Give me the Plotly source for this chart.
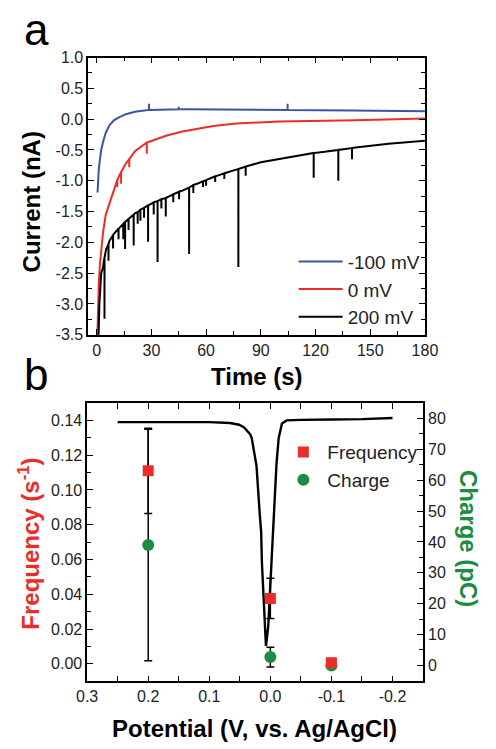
import plotly.graph_objects as go

# ---------------- Panel a data ----------------
blue_t = [0.5, 0.8, 1.2, 1.7, 2.5, 3.5, 5, 7, 9.5, 12.2, 16, 21, 25, 29.6, 40, 50, 75, 100, 140, 180]
blue_i = [-1.19, -0.98, -0.80, -0.68, -0.50, -0.37, -0.22, -0.10, -0.02, 0.03, 0.08, 0.12, 0.14, 0.15,
          0.16, 0.16, 0.16, 0.15, 0.14, 0.13]
blue_spike_t = [28.7, 45.0, 104.7]
blue_spike_base = [0.15, 0.16, 0.15]
blue_spike_tip = [0.25, 0.20, 0.25]

red_t = [0.3, 0.7, 1.2, 1.8, 2.6, 3.5, 5, 7, 9.5, 12.2, 16, 21, 25, 29.6, 38, 47, 64, 76.5, 100, 142, 180]
red_i = [-3.6, -3.0, -2.64, -2.35, -2.11, -1.84, -1.55, -1.37, -1.12, -0.93, -0.72, -0.52, -0.43, -0.36,
         -0.27, -0.20, -0.11, -0.07, -0.04, -0.02, 0.01]
red_spike_t = [11.3, 13.4, 17.9, 27.5]
red_spike_base = [-0.99, -0.86, -0.65, -0.38]
red_spike_tip = [-1.10, -1.05, -0.78, -0.56]

black_t = [0.8, 1.0, 1.5, 2.5, 3.5, 5.2, 7, 10.4, 15, 21, 29.6, 40, 47, 55, 64, 76.5, 90, 108, 125, 142, 160, 180]
black_i = [-3.8, -3.6, -3.0, -2.5, -2.40, -2.11, -1.98, -1.83, -1.68, -1.53, -1.38, -1.25, -1.16, -1.05,
           -0.94, -0.82, -0.70, -0.60, -0.53, -0.46, -0.40, -0.35]
black_spike_t = [4.3, 6.5, 9.0, 12.0, 14.6, 15.6, 17.5, 20.3, 22.5, 24.0, 26.0, 28.2, 31.3, 33.4, 35.5,
                 37.9, 42.0, 45.2, 50.7, 53.0, 58.3, 60.0, 65.0, 70.0, 77.7, 81.7, 119.0, 132.5, 140.0]
black_spike_base = [-2.25, -2.03, -1.88, -1.78, -1.70, -1.67, -1.62, -1.55, -1.51, -1.47, -1.44, -1.40,
                    -1.35, -1.33, -1.30, -1.28, -1.22, -1.18, -1.11, -1.07, -1.01, -0.99, -0.93, -0.88,
                    -0.81, -0.77, -0.55, -0.50, -0.47]
black_spike_tip = [-3.24, -2.30, -2.10, -1.95, -1.95, -2.11, -1.80, -2.05, -1.70, -1.65, -1.60, -1.99,
                   -1.55, -2.32, -1.45, -1.58, -1.35, -1.30, -2.19, -1.20, -1.10, -1.08, -1.02, -0.97,
                   -2.40, -0.92, -0.95, -1.00, -0.65]

time_ticks = [0, 30, 60, 90, 120, 150, 180]
current_ticks = [1.0, 0.5, 0.0, -0.5, -1.0, -1.5, -2.0, -2.5, -3.0, -3.5]
current_ticktext = ["1.0", "0.5", "0.0", "-0.5", "-1.0", "-1.5", "-2.0", "-2.5", "-3.0", "-3.5"]

# ---------------- Panel b data ----------------
potential = [0.2, 0.0, -0.1]
frequency = [0.111, 0.0376, 0.0006]
frequency_err = [0.0245, 0.0116, None]
charge = [39.0, 2.7, 0.0]
charge_err = [37.5, 3.2, None]

cv_x = [0.25, 0.15, 0.10, 0.066, 0.051, 0.043, 0.033, 0.0305, 0.0227, 0.0175, 0.015, 0.0139, 0.0097,
        0.0072, 0.0035, -0.0006, -0.006, -0.010, -0.0136, -0.019, -0.0266, -0.05, -0.1, -0.15, -0.2]
cv_y = [0.1390, 0.1392, 0.1390, 0.1385, 0.1375, 0.1360, 0.1320, 0.1298, 0.1140, 0.0867, 0.0755, 0.0586,
        0.0305, 0.0103, 0.0213, 0.0493, 0.0867, 0.1148, 0.1298, 0.1382, 0.1400, 0.1403, 0.1405, 0.1407, 0.1414]

pot_ticks = [0.3, 0.2, 0.1, 0.0, -0.1, -0.2]
pot_ticktext = ["0.3", "0.2", "0.1", "0.0", "-0.1", "-0.2"]
freq_ticks = [0.00, 0.02, 0.04, 0.06, 0.08, 0.10, 0.12, 0.14]
freq_ticktext = ["0.00", "0.02", "0.04", "0.06", "0.08", "0.10", "0.12", "0.14"]
charge_ticks = [0, 10, 20, 30, 40, 50, 60, 70, 80]

BLUE = "#3b55a5"
RED = "#ea2d2a"
GREEN = "#1b8c40"
FONT = "Arial, Liberation Sans, sans-serif"
W, H = 496, 749


def with_spikes(t, i, st, sb, sp):
    pts = [(a, b, 0) for a, b in zip(t, i)]
    for a, b, c in zip(st, sb, sp):
        pts += [(a - 0.02, b, 1), (a, c, 2), (a + 0.02, b, 3)]
    pts.sort()
    return [p[0] for p in pts], [p[1] for p in pts]


def px(xp):
    return xp / W


def py(yp):
    return 1 - yp / H


fig = go.Figure()

for name, t, i, st, sb, sp, col in [
    ("-100 mV", blue_t, blue_i, blue_spike_t, blue_spike_base, blue_spike_tip, BLUE),
    ("0 mV", red_t, red_i, red_spike_t, red_spike_base, red_spike_tip, RED),
    ("200 mV", black_t, black_i, black_spike_t, black_spike_base, black_spike_tip, "black"),
]:
    xs, ys = with_spikes(t, i, st, sb, sp)
    fig.add_trace(go.Scatter(x=xs, y=ys, mode="lines", name=name,
                             line=dict(color=col, width=2),
                             xaxis="x", yaxis="y", legend="legend"))

# panel b
fig.add_trace(go.Scatter(x=cv_x, y=cv_y, mode="lines", showlegend=False,
                         line=dict(color="black", width=2.4),
                         xaxis="x2", yaxis="y3"))
fig.add_trace(go.Scatter(x=potential, y=frequency, mode="markers", name="Frequency",
                         marker=dict(symbol="square", size=11, color=RED),
                         error_y=dict(type="data", array=frequency_err, color="black", thickness=1.5, width=4),
                         xaxis="x2", yaxis="y3", legend="legend2"))
fig.add_trace(go.Scatter(x=potential, y=charge, mode="markers", name="Charge",
                         marker=dict(symbol="circle", size=12, color=GREEN),
                         error_y=dict(type="data", array=charge_err, color="black", thickness=1.5, width=4),
                         xaxis="x2", yaxis="y2", legend="legend2"))

axis_common = dict(showline=True, linecolor="black", linewidth=1.5, ticks="inside", ticklen=6,
                   tickwidth=1.3, tickcolor="black", showgrid=False, zeroline=False,
                   tickfont=dict(family=FONT, size=16, color="#222"))

fig.update_layout(
    width=W, height=H, margin=dict(l=0, r=0, t=0, b=0),
    paper_bgcolor="white", plot_bgcolor="white",
    font=dict(family=FONT, color="black"),
    xaxis=dict(domain=[px(81), px(435)], anchor="y", range=[-4.7, 180], tickvals=time_ticks,
               mirror="allticks", minor=dict(ticks="inside", ticklen=4, dtick=15, tick0=0, tickcolor="black"),
               **axis_common),
    yaxis=dict(domain=[py(334.3), py(50.7)], anchor="x", range=[-3.5, 1.0], tickvals=current_ticks,
               ticktext=current_ticktext, mirror="allticks",
               minor=dict(ticks="inside", ticklen=4, dtick=0.25, tick0=0, tickcolor="black"),
               **axis_common),
    xaxis2=dict(domain=[px(80), px(433)], anchor="y2", range=[0.3, -0.25], tickvals=pot_ticks,
                ticktext=pot_ticktext, mirror="allticks",
                minor=dict(ticks="inside", ticklen=4, dtick=0.05, tick0=0, tickcolor="black"),
                **axis_common),
    yaxis2=dict(domain=[py(689), py(404)], anchor="x2", side="right", range=[-5.16, 85.06],
                tickvals=charge_ticks,
                minor=dict(ticks="inside", ticklen=4, dtick=5, tick0=0, tickcolor="black"),
                **axis_common),
    yaxis3=dict(overlaying="y2", anchor="x2", side="left", range=[-0.0101, 0.1501],
                tickvals=freq_ticks, ticktext=freq_ticktext,
                minor=dict(ticks="inside", ticklen=4, dtick=0.01, tick0=0, tickcolor="black"),
                **axis_common),
    legend=dict(x=px(297), y=py(240), xanchor="left", yanchor="top", bgcolor="rgba(0,0,0,0)",
                font=dict(family=FONT, size=19, color="#222"), itemwidth=44, tracegroupgap=0),
    legend2=dict(x=px(282), y=py(435), xanchor="left", yanchor="top", bgcolor="rgba(0,0,0,0)",
                 font=dict(family=FONT, size=19, color="#222"), itemwidth=38, tracegroupgap=0),
)

ann = [
    dict(text="a", x=px(12), y=py(22), xanchor="left", yanchor="middle", font=dict(size=44)),
    dict(text="b", x=px(12), y=py(375), xanchor="left", yanchor="middle", font=dict(size=44)),
    dict(text="<b>Current (nA)</b>", x=px(22), y=py(198), textangle=-90, font=dict(size=24)),
    dict(text="<b>Time (s)</b>", x=px(258), y=py(377), font=dict(size=24)),
    dict(text="<b>Frequency (s<sup>-1</sup>)</b>", x=px(18), y=py(548), textangle=-90,
         font=dict(size=24, color=RED)),
    dict(text="<b>Charge (pC)</b>", x=px(481), y=py(543), textangle=90, font=dict(size=24, color=GREEN)),
    dict(text="<b>Potential (V, vs. Ag/AgCl)</b>", x=px(256), y=py(737), font=dict(size=24)),
]
for a in ann:
    a.setdefault("xanchor", "center")
    a.setdefault("yanchor", "middle")
    a["font"].setdefault("family", FONT)
    a["font"].setdefault("color", "black")
    fig.add_annotation(xref="paper", yref="paper", showarrow=False, **a)

fig.write_html("out.html", config={"displayModeBar": False},
               post_script="document.body.style.margin='0px';")
